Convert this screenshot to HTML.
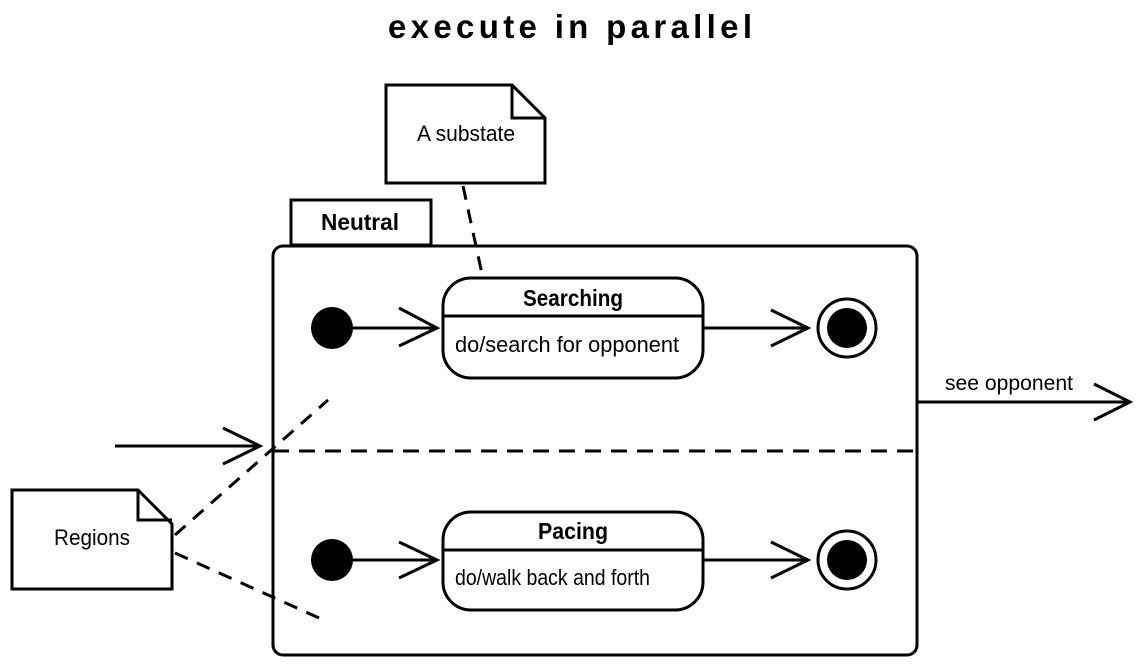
<!DOCTYPE html>
<html><head><meta charset="utf-8"><style>
html,body{margin:0;padding:0;background:#fff;}
svg{display:block;}
text{font-family:"Liberation Sans",sans-serif;fill:#000;}
</style></head><body>
<svg width="1143" height="666" viewBox="0 0 1143 666" xmlns="http://www.w3.org/2000/svg">
<text x="570" y="38" text-anchor="middle" font-size="33" font-weight="bold" textLength="364" lengthAdjust="spacing">execute in parallel</text>
<g stroke="#000" stroke-width="3" fill="none">
<path d="M386 85 H512 L545 118 V183 H386 Z" fill="#fff"/>
<path d="M512 85 V118 H545"/>
<rect x="291" y="200" width="140" height="45" fill="#fff"/>
<rect x="273" y="246" width="644" height="409" rx="10" fill="#fff"/>
<line x1="273" y1="451" x2="917" y2="451" stroke-dasharray="16,10"/>
<line x1="463" y1="186" x2="487" y2="297" stroke-dasharray="14,10"/>
<rect x="443" y="278" width="260" height="100" rx="28" fill="#fff"/>
<line x1="443" y1="316" x2="703" y2="316"/>
<rect x="443" y="512" width="260" height="98" rx="28" fill="#fff"/>
<line x1="443" y1="550" x2="703" y2="550"/>
<line x1="350" y1="328" x2="437" y2="328"/>
<polyline points="399,308 437,328 399,346"/>
<line x1="703" y1="328" x2="808" y2="328"/>
<polyline points="771,310 808,328 771,346"/>
<line x1="350" y1="560" x2="437" y2="560"/>
<polyline points="399,542 437,560 399,578"/>
<line x1="703" y1="560" x2="808" y2="560"/>
<polyline points="771,542 808,560 771,578"/>
<circle cx="847" cy="328" r="29"/>
<circle cx="847" cy="560" r="29"/>
<line x1="917" y1="402" x2="1130" y2="402"/>
<polyline points="1094,384 1130,402 1094,420"/>
<line x1="115" y1="446" x2="260" y2="446"/>
<polyline points="223,428 260,446 223,464"/>
<path d="M12 490 H138 L172 524 V589 H12 Z" fill="#fff"/>
<path d="M138 490 V520 H172"/>
<line x1="175" y1="535" x2="328" y2="400" stroke-dasharray="14,10"/>
<line x1="175" y1="553" x2="328" y2="622" stroke-dasharray="14,10"/>
</g>
<circle cx="332" cy="328" r="21" fill="#000"/>
<circle cx="332" cy="560" r="21" fill="#000"/>
<circle cx="847" cy="328" r="20" fill="#000"/>
<circle cx="847" cy="560" r="20" fill="#000"/>
<text x="466" y="141" text-anchor="middle" font-size="22" textLength="98" lengthAdjust="spacingAndGlyphs">A substate</text>
<text x="360" y="230" text-anchor="middle" font-size="23" font-weight="bold" textLength="78" lengthAdjust="spacingAndGlyphs">Neutral</text>
<text x="573" y="306" text-anchor="middle" font-size="23" font-weight="bold" textLength="100" lengthAdjust="spacingAndGlyphs">Searching</text>
<text x="455" y="352" font-size="22" textLength="224" lengthAdjust="spacingAndGlyphs">do/search for opponent</text>
<text x="573" y="539" text-anchor="middle" font-size="23" font-weight="bold" textLength="70" lengthAdjust="spacingAndGlyphs">Pacing</text>
<text x="455" y="585" font-size="22" textLength="195" lengthAdjust="spacingAndGlyphs">do/walk back and forth</text>
<text x="945" y="390" font-size="21" textLength="128" lengthAdjust="spacingAndGlyphs">see opponent</text>
<text x="92" y="545" text-anchor="middle" font-size="22" textLength="76" lengthAdjust="spacingAndGlyphs">Regions</text>
</svg>
</body></html>
